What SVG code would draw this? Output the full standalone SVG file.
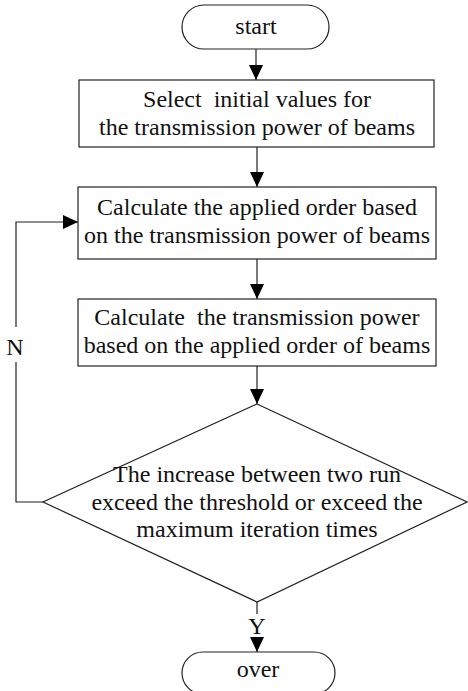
<svg xmlns="http://www.w3.org/2000/svg" width="468" height="691" viewBox="0 0 468 691">
  <style>
    .shape { fill: #ffffff; stroke: #222222; stroke-width: 1.2; }
    .conn { fill: none; stroke: #222222; stroke-width: 1.2; }
    text { font-family: "Liberation Serif", "Times New Roman", serif; font-size: 24px; fill: #111111; text-anchor: middle; white-space: pre; }
  </style>
  <defs>
    <marker id="arrow" markerUnits="userSpaceOnUse" markerWidth="15" markerHeight="14" refX="15" refY="7" orient="auto">
      <path d="M0,0 L15,7 L0,14 z" fill="#000000"/>
    </marker>
  </defs>

  <!-- connectors -->
  <g id="connectors">
    <path class="conn" d="M256,49 V80" marker-end="url(#arrow)"/>
    <path class="conn" d="M257,147 V187" marker-end="url(#arrow)"/>
    <path class="conn" d="M257,259 V299" marker-end="url(#arrow)"/>
    <path class="conn" d="M257,366 V404" marker-end="url(#arrow)"/>
    <!-- N branch: loop back to the order calculation -->
    <path class="conn" d="M43,502 H16 V362"/>
    <path class="conn" d="M16,327 V222 H78" marker-end="url(#arrow)"/>
    <text x="15" y="355">N</text>
    <!-- Y branch: finish -->
    <path class="conn" d="M257,602 V614"/>
    <path class="conn" d="M257,637 V652" marker-end="url(#arrow)"/>
    <text x="257" y="634">Y</text>
  </g>

  <g id="start">
    <rect class="shape" x="182" y="5" width="147" height="44" rx="22" ry="22"/>
    <text x="256" y="34">start</text>
  </g>

  <g id="init">
    <rect class="shape" x="79" y="80" width="355" height="67"/>
    <text x="257" y="107" xml:space="preserve">Select  initial values for</text>
    <text x="257" y="135">the transmission power of beams</text>
  </g>

  <g id="order">
    <rect class="shape" x="78" y="187" width="358" height="72"/>
    <text x="257" y="215">Calculate the applied order based</text>
    <text x="257" y="243">on the transmission power of beams</text>
  </g>

  <g id="power">
    <rect class="shape" x="78" y="299" width="358" height="67"/>
    <text x="257" y="325" xml:space="preserve">Calculate  the transmission power</text>
    <text x="257" y="353">based on the applied order of beams</text>
  </g>

  <g id="check">
    <polygon class="shape" points="257,404 467,502 257,602 43,502"/>
    <text x="257" y="482">The increase between two run</text>
    <text x="257" y="510">exceed the threshold or exceed the</text>
    <text x="257" y="537">maximum iteration times</text>
  </g>

  <g id="over">
    <rect class="shape" x="182" y="652" width="153" height="42" rx="21" ry="21"/>
    <text x="258" y="677">over</text>
  </g>
</svg>
